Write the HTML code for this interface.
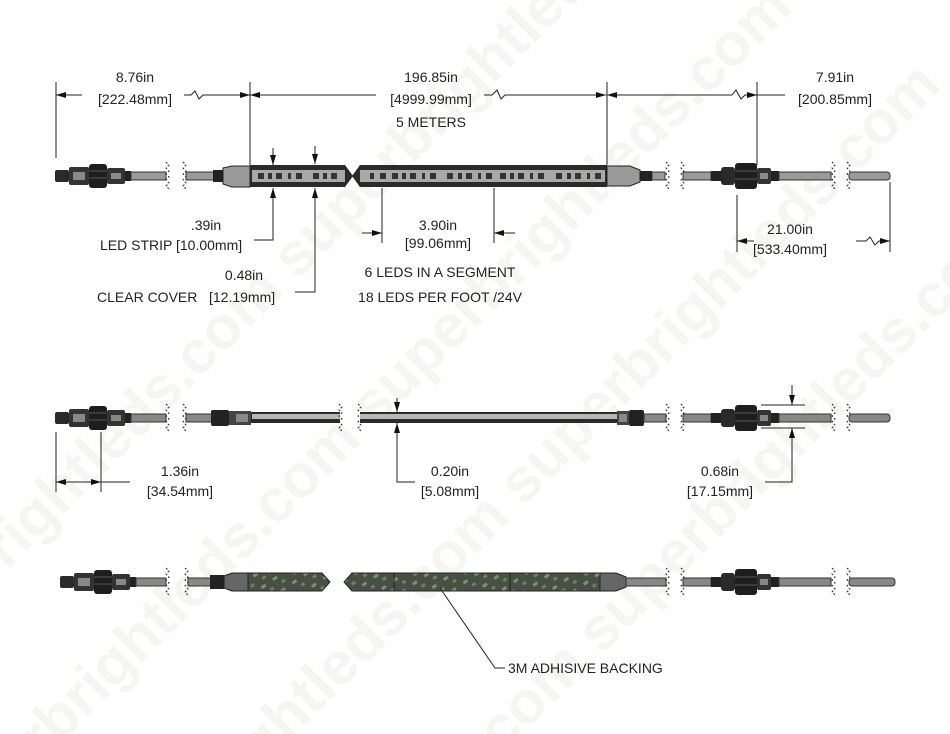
<!DOCTYPE html>
<html><head><meta charset="utf-8"><style>
html,body{margin:0;padding:0;background:#fff;width:950px;height:734px;overflow:hidden}
svg{display:block}
text{font-family:"Liberation Sans","DejaVu Sans",sans-serif;font-size:14px;fill:#222}
.d{stroke:#222;stroke-width:1;fill:none}
.wm{font-family:"Liberation Sans",sans-serif;font-size:60px;font-weight:bold;fill:#f5f5f1}
</style></head><body>
<svg width="950" height="734" viewBox="0 0 950 734" xmlns="http://www.w3.org/2000/svg">
<defs>
<marker id="a" viewBox="0 0 10 6" refX="10" refY="3" markerWidth="10" markerHeight="6" orient="auto-start-reverse" markerUnits="userSpaceOnUse"><path d="M0,0L10,3L0,6z" fill="#111"/></marker>
<pattern id="h" width="14" height="14" patternUnits="userSpaceOnUse" patternTransform="rotate(-35)">
<rect width="14" height="14" fill="#4a4f45"/><rect x="3" y="0" width="5" height="3" fill="#7f8f70"/><rect x="9" y="7" width="4" height="3" fill="#6f8060"/>
</pattern>
<g id="male">
<rect x="0" y="-6" width="14" height="12" rx="2" fill="#2a2a2a"/>
<rect x="14" y="-9" width="20" height="18" rx="2" fill="#333"/>
<rect x="18" y="-4" width="12" height="8" fill="#888"/>
<rect x="34" y="-12" width="18" height="24" rx="3" fill="#1e1e1e"/>
<line x1="34" y1="-5" x2="52" y2="-5" stroke="#555"/><line x1="34" y1="2" x2="52" y2="2" stroke="#555"/>
<rect x="52" y="-8" width="18" height="16" rx="2" fill="#333"/>
<rect x="56" y="-3" width="10" height="6" fill="#888"/>
<rect x="70" y="-5" width="6" height="10" fill="#222"/>
</g>
<g id="fem">
<rect x="0" y="-5" width="10" height="10" fill="#222"/>
<rect x="10" y="-9" width="14" height="18" rx="3" fill="#2a2a2a"/>
<rect x="24" y="-13" width="22" height="26" rx="3" fill="#1e1e1e"/>
<line x1="24" y1="-5" x2="46" y2="-5" stroke="#555"/><line x1="24" y1="3" x2="46" y2="3" stroke="#555"/>
<rect x="46" y="-8" width="14" height="16" rx="2" fill="#333"/>
<rect x="49" y="-3" width="8" height="6" fill="#888"/>
<rect x="60" y="-5" width="8" height="10" fill="#222"/>
</g>
<g id="brk"><path d="M0,-14l3,3l-3,3l3,3l-3,3l3,3l-3,3l3,3l-3,3l3,3" class="d" stroke-dasharray="2,2"/></g>
</defs>

<g transform="rotate(-45 475 367)">
<text class="wm" x="-200" y="180">superbrightleds.com superbrightleds.com</text>
<text class="wm" x="-250" y="340">superbrightleds.com superbrightleds.com</text>
<text class="wm" x="-200" y="500">superbrightleds.com superbrightleds.com</text>
<text class="wm" x="-250" y="660">superbrightleds.com superbrightleds.com</text>
</g>

<!-- TOP ROW -->
<g>
<use href="#male" x="55" y="176"/>
<rect x="131" y="172" width="35" height="8" fill="#9a9a9a" stroke="#333"/>
<use href="#brk" x="166" y="176"/><use href="#brk" x="183" y="176"/>
<rect x="186" y="172" width="30" height="8" fill="#9a9a9a" stroke="#333"/>
<rect x="213" y="170" width="10" height="12" fill="#222"/>
<path d="M223,168L232,166L250,166L250,187L232,187L223,184z" fill="#9a9a9a" stroke="#222"/>
<rect x="250" y="165" width="95" height="22" fill="#2a2a2a"/>
<rect x="252" y="170" width="93" height="12" fill="#a8a8a8"/>
<path d="M345,165l8,11l-8,11z" fill="#2a2a2a"/>
<path d="M360,165l-8,11l8,11z" fill="#2a2a2a"/>
<rect x="360" y="165" width="247" height="22" fill="#2a2a2a"/>
<rect x="360" y="170" width="245" height="12" fill="#a8a8a8"/>
<path d="M607,166L630,166L640,170L640,182L630,186L607,186z" fill="#9a9a9a" stroke="#222"/>
<rect x="640" y="171" width="12" height="10" fill="#222"/>
<rect x="652" y="172" width="13" height="8" fill="#9a9a9a" stroke="#333"/>
<use href="#brk" x="666" y="176"/><use href="#brk" x="681" y="176"/>
<rect x="683" y="172" width="28" height="8" fill="#9a9a9a" stroke="#333"/>
<use href="#fem" x="711" y="176"/>
<rect x="779" y="172" width="52" height="8" fill="#9a9a9a" stroke="#333"/>
<use href="#brk" x="832" y="176"/><use href="#brk" x="847" y="176"/>
<rect x="849" y="172" width="41" height="8" rx="3" fill="#9a9a9a" stroke="#333"/>
<g fill="#333">
<rect x="258" y="173" width="6" height="6"/><rect x="268" y="173" width="4" height="6"/><rect x="276" y="173" width="6" height="6"/><rect x="288" y="173" width="3" height="6"/><rect x="296" y="173" width="6" height="6"/><rect x="313" y="173" width="6" height="6"/><rect x="323" y="173" width="4" height="6"/><rect x="331" y="173" width="6" height="6"/>
<rect x="370" y="173" width="4" height="6"/><rect x="380" y="173" width="6" height="6"/><rect x="392" y="173" width="6" height="6"/><rect x="402" y="173" width="4" height="6"/><rect x="410" y="173" width="6" height="6"/><rect x="422" y="173" width="3" height="6"/><rect x="430" y="173" width="6" height="6"/>
<rect x="447" y="173" width="6" height="6"/><rect x="458" y="173" width="4" height="6"/><rect x="466" y="173" width="6" height="6"/><rect x="478" y="173" width="3" height="6"/><rect x="486" y="173" width="6" height="6"/><rect x="500" y="173" width="6" height="6"/><rect x="510" y="173" width="4" height="6"/><rect x="518" y="173" width="6" height="6"/><rect x="530" y="173" width="3" height="6"/><rect x="538" y="173" width="6" height="6"/>
<rect x="556" y="173" width="6" height="6"/><rect x="567" y="173" width="4" height="6"/><rect x="575" y="173" width="6" height="6"/><rect x="587" y="173" width="3" height="6"/><rect x="595" y="173" width="6" height="6"/>
</g>
</g>

<line class="d" x1="56" y1="82" x2="56" y2="158"/>
<line class="d" x1="250" y1="82" x2="250" y2="165"/>
<line class="d" x1="607" y1="82" x2="607" y2="165"/>
<line class="d" x1="757" y1="82" x2="757" y2="165"/>
<line class="d" x1="56" y1="95" x2="82" y2="95" marker-start="url(#a)"/>
<path class="d" d="M184,95h7l4,-4l4,8l4,-4h47" marker-end="url(#a)"/>
<line class="d" x1="250" y1="95" x2="376" y2="95" marker-start="url(#a)"/>
<path class="d" d="M484,95h8l5,-5l4,9l4,-4h101" marker-end="url(#a)"/>
<path class="d" d="M607,95h125l4,-5l5,9l4,-4h12" marker-start="url(#a)" marker-end="url(#a)"/>
<line class="d" x1="757" y1="95" x2="785" y2="95"/>
<text x="135" y="82" text-anchor="middle">8.76in</text>
<text x="135" y="104" text-anchor="middle">[222.48mm]</text>
<text x="431" y="82" text-anchor="middle">196.85in</text>
<text x="431" y="104" text-anchor="middle">[4999.99mm]</text>
<text x="431" y="127" text-anchor="middle">5 METERS</text>
<text x="835" y="82" text-anchor="middle">7.91in</text>
<text x="835" y="104" text-anchor="middle">[200.85mm]</text>

<line class="d" x1="273" y1="148" x2="273" y2="165" marker-end="url(#a)"/>
<path class="d" d="M273,205V240H254" />
<line class="d" x1="273" y1="205" x2="273" y2="188" marker-end="url(#a)"/>
<line class="d" x1="315" y1="146" x2="315" y2="164" marker-end="url(#a)"/>
<path class="d" d="M315,205V292H295"/>
<line class="d" x1="315" y1="205" x2="315" y2="188" marker-end="url(#a)"/>
<text x="206" y="230" text-anchor="middle">.39in</text>
<text x="100" y="250">LED STRIP</text><text x="176" y="250">[10.00mm]</text>
<text x="244" y="280" text-anchor="middle">0.48in</text>
<text x="97" y="302">CLEAR COVER</text><text x="209" y="302">[12.19mm]</text>

<line class="d" x1="382" y1="188" x2="382" y2="243"/>
<line class="d" x1="494" y1="188" x2="494" y2="243"/>
<line class="d" x1="362" y1="233" x2="382" y2="233" marker-end="url(#a)"/>
<line class="d" x1="515" y1="233" x2="494" y2="233" marker-end="url(#a)"/>
<text x="438" y="230" text-anchor="middle">3.90in</text>
<text x="438" y="248" text-anchor="middle">[99.06mm]</text>
<text x="440" y="277" text-anchor="middle">6 LEDS IN A SEGMENT</text>
<text x="440" y="302" text-anchor="middle">18 LEDS PER FOOT /24V</text>

<line class="d" x1="737" y1="195" x2="737" y2="252"/>
<line class="d" x1="890" y1="182" x2="890" y2="252"/>
<line class="d" x1="737" y1="241" x2="754" y2="241" marker-start="url(#a)"/>
<path class="d" d="M856,241h10l4,-4l5,8l4,-4h11" marker-end="url(#a)"/>
<text x="790" y="234" text-anchor="middle">21.00in</text>
<text x="790" y="254" text-anchor="middle">[533.40mm]</text>

<!-- MIDDLE ROW -->
<use href="#male" x="55" y="418"/>
<rect x="131" y="414" width="35" height="8" fill="#888" stroke="#333"/>
<use href="#brk" x="166" y="418"/><use href="#brk" x="183" y="418"/>
<rect x="186" y="414" width="26" height="8" fill="#888" stroke="#333"/>
<rect x="211" y="410" width="18" height="16" rx="2" fill="#222"/>
<rect x="229" y="411" width="22" height="14" fill="#444"/><rect x="236" y="414" width="12" height="8" fill="#888"/>
<rect x="251" y="412" width="89" height="11" fill="#2a2a2a"/>
<rect x="252" y="414" width="88" height="5" fill="#b8b8b8"/>
<use href="#brk" x="339" y="418"/><use href="#brk" x="358" y="418"/>
<rect x="360" y="412" width="257" height="11" fill="#2a2a2a"/>
<rect x="360" y="414" width="257" height="5" fill="#b8b8b8"/>
<rect x="617" y="411" width="12" height="14" fill="#444"/><rect x="619" y="414" width="8" height="8" fill="#888"/>
<rect x="629" y="410" width="15" height="16" rx="2" fill="#222"/>
<rect x="644" y="414" width="22" height="8" fill="#888" stroke="#333"/>
<use href="#brk" x="666" y="418"/><use href="#brk" x="681" y="418"/>
<rect x="683" y="414" width="28" height="8" fill="#888" stroke="#333"/>
<use href="#fem" x="711" y="418"/>
<rect x="779" y="414" width="52" height="8" fill="#888" stroke="#333"/>
<use href="#brk" x="832" y="418"/><use href="#brk" x="847" y="418"/>
<rect x="849" y="414" width="41" height="8" rx="3" fill="#888" stroke="#333"/>

<line class="d" x1="56" y1="432" x2="56" y2="492"/>
<line class="d" x1="101" y1="432" x2="101" y2="492"/>
<line class="d" x1="56" y1="482" x2="101" y2="482" marker-start="url(#a)" marker-end="url(#a)"/>
<line class="d" x1="101" y1="482" x2="130" y2="482"/>
<text x="180" y="476" text-anchor="middle">1.36in</text>
<text x="180" y="496" text-anchor="middle">[34.54mm]</text>

<line class="d" x1="397" y1="398" x2="397" y2="412" marker-end="url(#a)"/>
<path class="d" d="M397,440V482H415"/>
<line class="d" x1="397" y1="440" x2="397" y2="423" marker-end="url(#a)"/>
<text x="450" y="476" text-anchor="middle">0.20in</text>
<text x="450" y="496" text-anchor="middle">[5.08mm]</text>

<line class="d" x1="761" y1="405" x2="805" y2="405"/>
<line class="d" x1="761" y1="428" x2="805" y2="428"/>
<line class="d" x1="792" y1="385" x2="792" y2="405" marker-end="url(#a)"/>
<path class="d" d="M792,448V482H765"/>
<line class="d" x1="792" y1="448" x2="792" y2="428" marker-end="url(#a)"/>
<text x="720" y="476" text-anchor="middle">0.68in</text>
<text x="720" y="496" text-anchor="middle">[17.15mm]</text>

<!-- BOTTOM ROW -->
<use href="#male" x="60" y="582"/>
<rect x="136" y="578" width="30" height="8" fill="#888" stroke="#333"/>
<use href="#brk" x="166" y="582"/><use href="#brk" x="185" y="582"/>
<rect x="188" y="578" width="24" height="8" fill="#888" stroke="#333"/>
<rect x="210" y="575" width="14" height="14" fill="#222"/>
<path d="M224,576L232,573L248,573L248,591L232,591L224,588z" fill="#666" stroke="#222"/>
<path d="M248,573H322l8,9l-8,9H248z" fill="url(#h)" stroke="#222"/>
<path d="M352,573H600V591H352l-8,-9z" fill="url(#h)" stroke="#222"/>
<line x1="394" y1="573" x2="394" y2="591" stroke="#222"/>
<line x1="510" y1="573" x2="510" y2="591" stroke="#222"/>
<path d="M600,573L616,573L626,577L626,587L616,591L600,591z" fill="#666" stroke="#222"/>
<rect x="626" y="578" width="40" height="8" fill="#888" stroke="#333"/>
<use href="#brk" x="666" y="582"/><use href="#brk" x="681" y="582"/>
<rect x="683" y="578" width="28" height="8" fill="#888" stroke="#333"/>
<use href="#fem" x="711" y="582"/>
<rect x="779" y="578" width="52" height="8" fill="#888" stroke="#333"/>
<use href="#brk" x="832" y="582"/><use href="#brk" x="847" y="582"/>
<rect x="849" y="578" width="46" height="8" rx="3" fill="#888" stroke="#333"/>

<path class="d" d="M440,588L495,668H505"/>
<text x="508" y="673">3M ADHISIVE BACKING</text>
</svg>
</body></html>
